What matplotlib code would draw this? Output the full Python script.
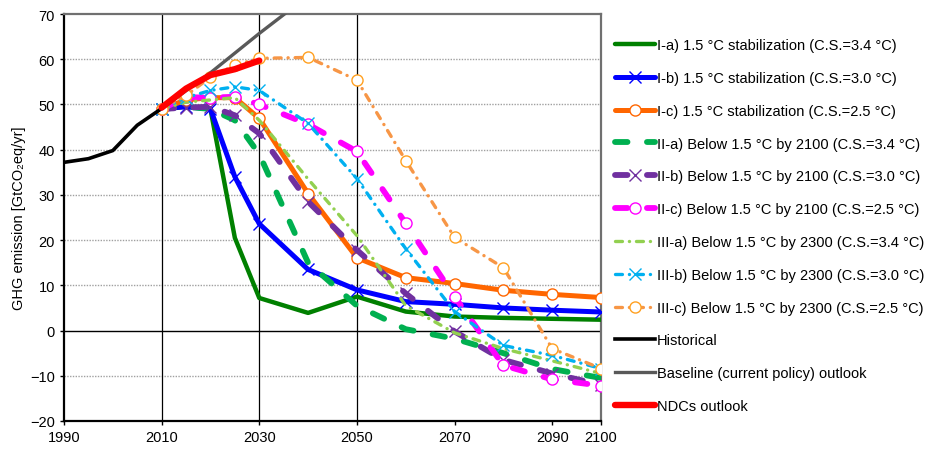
import matplotlib
matplotlib.use("Agg")
import matplotlib.pyplot as plt

plt.rcParams['font.family'] = ['Liberation Sans', 'DejaVu Sans']
plt.rcParams['lines.scale_dashes'] = False

years = [2010, 2015, 2020, 2025, 2030, 2040, 2050, 2060, 2070, 2080, 2090, 2100]

Ia = [49, 49.5, 49, 20.5, 7.2, 3.9, 7.5, 4.2, 3.1, 2.8, 2.6, 2.4]
Ib = [49, 49.5, 49, 34, 23.6, 13.5, 9.0, 6.4, 5.8, 5.0, 4.5, 4.1]
Ic = [49, 51, 51.5, 51.5, 46.9, 30.3, 16.1, 11.7, 10.4, 8.9, 8.0, 7.3]
IIa = [49, 49.5, 49, 46.5, 39, 15, 5.5, 0.3, -1.8, -5, -8.5, -10.5]
IIb = [49, 49.3, 49.5, 47.6, 43.6, 28.5, 17.8, 8.2, -0.2, -6.5, -9.5, -12]
IIc = [49, 51.6, 51.5, 51.7, 50, 45.6, 39.6, 23.7, 7.5, -7.7, -10.8, -12.2]
IIIa = [49, 50.5, 51, 51.5, 46.5, 33.5, 21, 5.5, -0.5, -4, -6.7, -9.5]
IIIb = [49, 51.5, 53.1, 53.9, 53.1, 45.8, 33.6, 18.1, 4.2, -3.3, -5.5, -8.4]
IIIc = [49, 52, 56, 58.7, 60.2, 60.4, 55.4, 37.6, 20.6, 13.9, -4, -8.4]

hist_years = [1990, 1995, 2000, 2005, 2010]
hist = [37.2, 38, 39.8, 45.4, 49.1]
base_years = [2010, 2020, 2030, 2040, 2050]
base = [49.1, 57, 65.7, 74, 82]
ndc_years = [2010, 2015, 2020, 2025, 2030]
ndc = [49.3, 53.5, 56.5, 57.8, 59.7]

labels = [
    "I-a) 1.5 °C stabilization (C.S.=3.4 °C)",
    "I-b) 1.5 °C stabilization (C.S.=3.0 °C)",
    "I-c) 1.5 °C stabilization (C.S.=2.5 °C)",
    "II-a) Below 1.5 °C by 2100 (C.S.=3.4 °C)",
    "II-b) Below 1.5 °C by 2100 (C.S.=3.0 °C)",
    "II-c) Below 1.5 °C by 2100 (C.S.=2.5 °C)",
    "III-a) Below 1.5 °C by 2300 (C.S.=3.4 °C)",
    "III-b) Below 1.5 °C by 2300 (C.S.=3.0 °C)",
    "III-c) Below 1.5 °C by 2300 (C.S.=2.5 °C)",
    "Historical",
    "Baseline (current policy) outlook",
    "NDCs outlook",
]

xticks = [1990, 2010, 2030, 2050, 2070, 2090, 2100]
yticks = list(range(-20, 71, 10))

fig = plt.figure(figsize=(9.34, 4.52), dpi=100)
ax = fig.add_axes([0.0685, 0.0664, 0.575, 0.9004])

# grid
for y in yticks:
    if y not in (0, -20, 70):
        ax.axhline(y, color='#a0a0a0', lw=1.0, ls=(0, (1, 1)), zorder=0)
ax.axhline(0, color='black', lw=1.0, zorder=0.5)
for x in [2010, 2030, 2050]:
    ax.axvline(x, color='black', lw=0.9, zorder=0.5)

II_dash = (0, (9, 14))
III_dash = (0, (5, 5, 0.1, 5))

ax.plot(years, Ia, color='#008000', lw=3.2, solid_capstyle='round', label=labels[0], zorder=3)
ax.plot(years, Ib, color='#0000ff', lw=3.6, marker='x', ms=9, mew=1.0, solid_capstyle='round', label=labels[1], zorder=3)
ax.plot(years, Ic, color='#ff6600', lw=3.6, marker='o', ms=8, mfc='white', mec='#ff6600', mew=1.0, solid_capstyle='round', label=labels[2], zorder=3)
ax.plot(years, IIa, color='#00b050', lw=4.2, ls=II_dash, dash_capstyle='round', label=labels[3], zorder=3)
ax.plot(years, IIb, color='#7030a0', lw=4.2, ls=II_dash, dash_capstyle='round', marker='x', ms=9, mew=1.0, label=labels[4], zorder=3)
ax.plot(years, IIc, color='#ff00ff', lw=4.2, ls=II_dash, dash_capstyle='round', marker='o', ms=8, mfc='white', mec='#ff00ff', mew=1.0, label=labels[5], zorder=3)
ax.plot(years, IIIa, color='#92d050', lw=2.4, ls=III_dash, dash_capstyle='round', label=labels[6], zorder=3)
ax.plot(years, IIIb, color='#00b0f0', lw=2.4, ls=III_dash, dash_capstyle='round', marker='x', ms=9, mew=1.0, label=labels[7], zorder=3)
ax.plot(years, IIIc, color='#f79646', lw=2.4, ls=III_dash, dash_capstyle='round', marker='o', ms=8, mfc='white', mec='#ffa020', mew=1.0, label=labels[8], zorder=3)
ax.plot(hist_years, hist, color='black', lw=2.6, label=labels[9], zorder=4)
ax.plot(base_years, base, color='#595959', lw=2.4, label=labels[10], zorder=4)
ax.plot(ndc_years, ndc, color='#ff0000', lw=4.6, solid_capstyle='round', label=labels[11], zorder=5)

ax.set_xlim(1990, 2100)
ax.set_ylim(-20, 70)
ax.set_xticks(xticks)
ax.set_yticks(yticks)
ax.tick_params(labelsize=10.5, direction='out', length=3, width=1)
ax.set_ylabel("GHG emission [GtCO₂eq/yr]", fontsize=10.5, labelpad=3)

for s in ['left', 'bottom']:
    ax.spines[s].set_color('black')
    ax.spines[s].set_linewidth(1.6)
for s in ['top', 'right']:
    ax.spines[s].set_color('#707070')
    ax.spines[s].set_linewidth(1.6)

leg = ax.legend(loc='upper left', bbox_to_anchor=(1.015, 0.955), frameon=False,
                fontsize=10.5, numpoints=1, handlelength=2.75, handletextpad=0.15,
                labelspacing=1.29, borderaxespad=0)

fig.savefig("out.png", dpi=100)
